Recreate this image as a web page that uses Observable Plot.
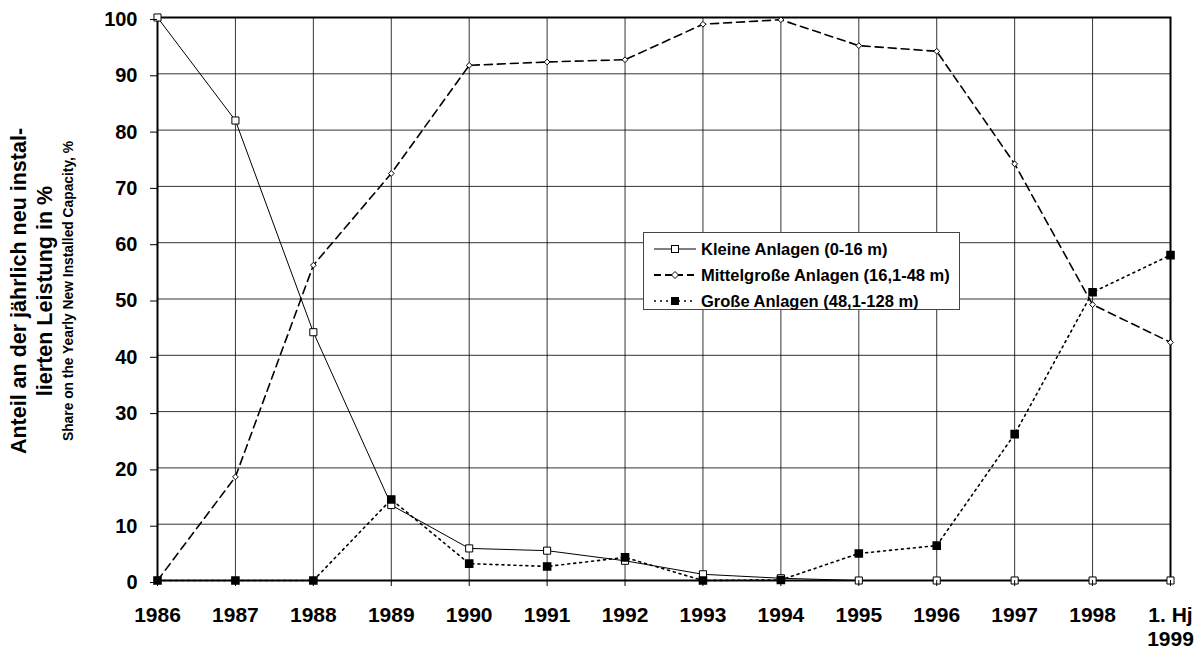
<!DOCTYPE html>
<html><head><meta charset="utf-8">
<script src="https://cdn.jsdelivr.net/npm/d3@7"></script>
<script src="https://cdn.jsdelivr.net/npm/@observablehq/plot@0.6"></script>
<style>
body{margin:0;background:#fff;overflow:hidden;}
#wrap{position:relative;width:1204px;height:650px;font-family:"Liberation Sans",Arial,sans-serif;font-weight:bold;color:#000;}
#ytitle{position:absolute;left:-156px;top:254px;width:400px;height:74px;transform:rotate(-90deg);text-align:center;}
#ytitle div{white-space:nowrap;}
#legend{position:absolute;left:643px;top:232px;width:317px;height:78px;border:1px solid #444;background:#fff;padding-top:3px;box-sizing:border-box;}
.lrow{height:26px;display:flex;align-items:center;font-size:16.5px;}
.lrow svg{margin-left:10px;margin-right:5px;}
</style></head>
<body>
<div id="wrap">
  <div id="chart"></div>
  <div id="ytitle">
    <div style="font-size:21.5px;line-height:25px;">Anteil an der jährlich neu instal-</div>
    <div style="font-size:21.5px;line-height:27px;">lierten Leistung in %</div>
    <div style="font-size:13.8px;line-height:20px;">Share on the Yearly New Installed Capacity, %</div>
  </div>
  <div id="legend"></div>
</div>
<script>
const years = ["1986","1987","1988","1989","1990","1991","1992","1993","1994","1995","1996","1997","1998","1. Hj 1999"];
const kleine = [100, 81.7, 44.1, 13.4, 5.7, 5.3, 3.5, 1.1, 0.4, 0, 0, 0, 0, 0];
const mittel = [0, 18.4, 56, 72.3, 91.5, 92.1, 92.5, 98.8, 99.6, 95, 94, 74, 49, 42.3];
const grosse = [0, 0, 0, 14.4, 3.0, 2.5, 4.1, 0, 0.1, 4.8, 6.2, 26, 51.2, 57.8];
const seriesNames = ["Kleine Anlagen (0-16 m)", "Mittelgroße Anlagen (16,1-48 m)", "Große Anlagen (48,1-128 m)"];
const yTicks = [0,10,20,30,40,50,60,70,80,90,100];

const chart = Plot.plot({
  width: 1204, height: 650,
  marginLeft: 157, marginRight: 34, marginTop: 17, marginBottom: 70,
  style: {fontFamily: "Liberation Sans, Arial, sans-serif", fontWeight: "bold", fontSize: "20px", color: "#000", background: "#fff"},
  x: {type: "point", domain: years, padding: 0, round: false},
  y: {domain: [0, 100]},
  marks: [
    Plot.gridY(yTicks, {stroke: "#000", strokeOpacity: 0.8, strokeWidth: 1}),
    Plot.gridX(years, {stroke: "#000", strokeOpacity: 0.8, strokeWidth: 1}),
    Plot.line(mittel, {x: years, y: mittel, stroke: "#000", strokeWidth: 1.6, strokeDasharray: "8,5"}),
    Plot.line(grosse, {x: years, y: grosse, stroke: "#000", strokeWidth: 1.6, strokeDasharray: "2,4"}),
    Plot.line(kleine, {x: years, y: kleine, stroke: "#000", strokeWidth: 1}),
    Plot.frame({stroke: "#000", strokeWidth: 2}),
    Plot.dot(kleine, {x: years, y: kleine, symbol: "square", r: 4, fill: "#fff", stroke: "#000", strokeWidth: 1}),
    Plot.dot(mittel, {x: years, y: mittel, symbol: "diamond2", r: 2.6, fill: "#fff", stroke: "#000", strokeWidth: 1}),
    Plot.dot(grosse, {x: years, y: grosse, symbol: "square", r: 4, fill: "#000", stroke: "#000"}),
    Plot.axisY(yTicks, {tickSize: 7, tickPadding: 13, fontSize: 20, fontWeight: "bold", label: null, strokeWidth: 1, dy: 2}),
    Plot.axisX(years, {tickSize: 6, tickPadding: 18, fontSize: 21, fontWeight: "bold", label: null, lineHeight: 1.15,
      tickFormat: d => d === "1. Hj 1999" ? "1. Hj\n1999" : d})
  ]
});
document.getElementById("chart").appendChild(chart);

// legend
const legendSpecs = [
  {name: seriesNames[0], dash: null, sw: 1, symbol: "square", fill: "#fff"},
  {name: seriesNames[1], dash: "7,4", sw: 2, symbol: "diamond", fill: "#fff"},
  {name: seriesNames[2], dash: "2,4", sw: 1.3, symbol: "square", fill: "#000"}
];
const legend = document.getElementById("legend");
legendSpecs.forEach(s => {
  const row = document.createElement("div");
  row.className = "lrow";
  const ns = "http://www.w3.org/2000/svg";
  const svg = document.createElementNS(ns, "svg");
  svg.setAttribute("width", 42); svg.setAttribute("height", 16);
  const ln = document.createElementNS(ns, "line");
  ln.setAttribute("x1", 0); ln.setAttribute("x2", 42); ln.setAttribute("y1", 8); ln.setAttribute("y2", 8);
  ln.setAttribute("stroke", "#000"); ln.setAttribute("stroke-width", s.sw);
  if (s.dash) ln.setAttribute("stroke-dasharray", s.dash);
  svg.appendChild(ln);
  let sym;
  if (s.symbol === "square") {
    sym = document.createElementNS(ns, "rect");
    sym.setAttribute("x", 17.5); sym.setAttribute("y", 4.5); sym.setAttribute("width", 7); sym.setAttribute("height", 7);
  } else {
    sym = document.createElementNS(ns, "path");
    sym.setAttribute("d", "M21,4.5L24.5,8L21,11.5L17.5,8Z");
  }
  sym.setAttribute("fill", s.fill); sym.setAttribute("stroke", "#000");
  svg.appendChild(sym);
  row.appendChild(svg);
  const t = document.createElement("span");
  t.textContent = s.name;
  row.appendChild(t);
  legend.appendChild(row);
});
</script>
</body></html>
